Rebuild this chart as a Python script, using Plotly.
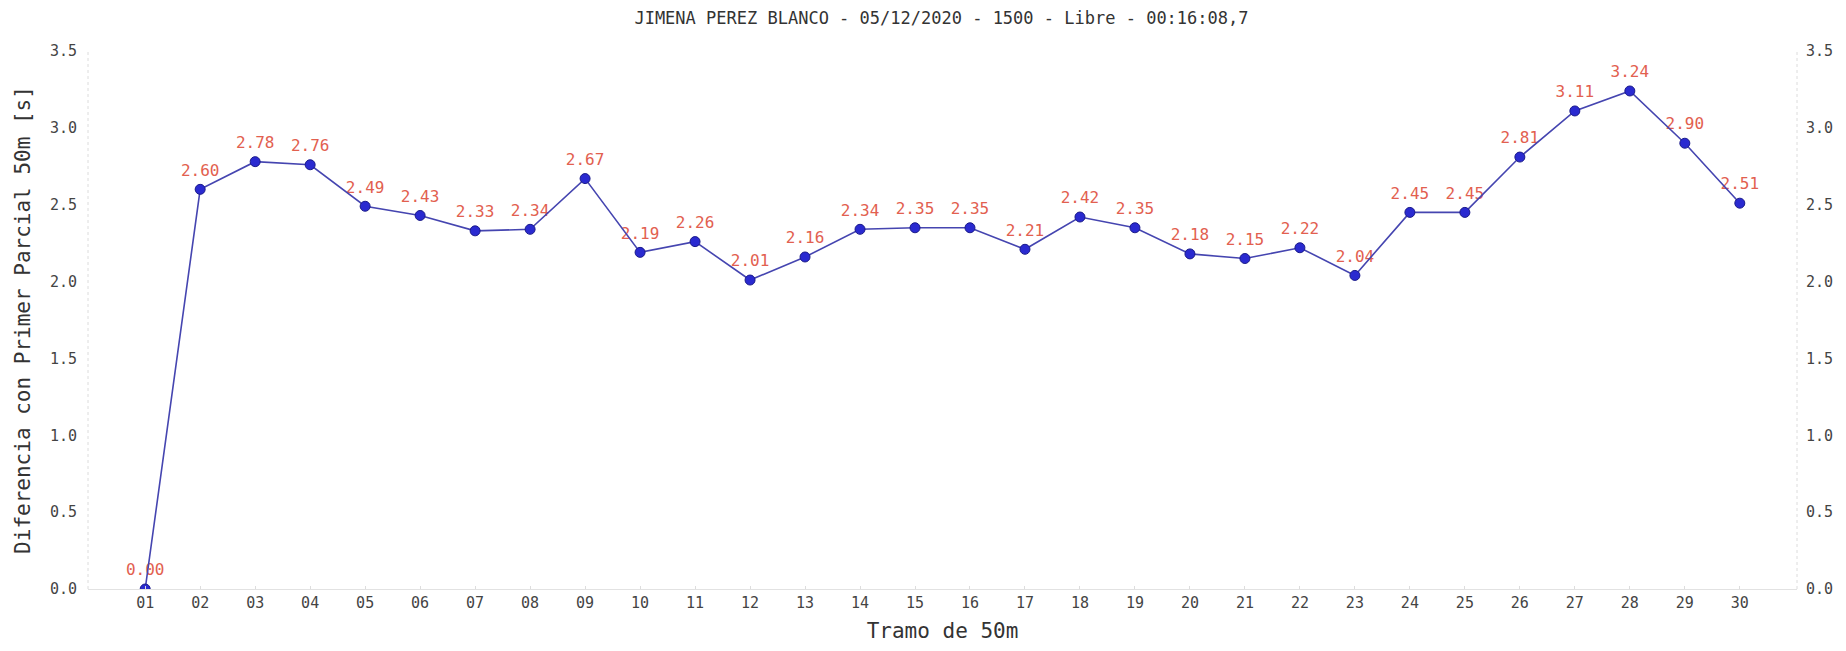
import plotly.graph_objects as go

# Split times relative to the first 50m split
tramos = [f"{i:02d}" for i in range(1, 31)]
diferencias = [0.00, 2.60, 2.78, 2.76, 2.49, 2.43, 2.33, 2.34, 2.67, 2.19,
               2.26, 2.01, 2.16, 2.34, 2.35, 2.35, 2.21, 2.42, 2.35, 2.18,
               2.15, 2.22, 2.04, 2.45, 2.45, 2.81, 3.11, 3.24, 2.90, 2.51]
titulo = "JIMENA PEREZ BLANCO - 05/12/2020 - 1500 - Libre - 00:16:08,7"
y_ticks = [0.0, 0.5, 1.0, 1.5, 2.0, 2.5, 3.0, 3.5]

FONT = "DejaVu Sans Mono"
x_pos = list(range(1, len(tramos) + 1))
etiquetas = [f"{v:.2f}" for v in diferencias]

fig = go.Figure()

# value labels first so the line sits on top of them; the transparent
# marker lifts the text a little above each point
fig.add_trace(go.Scatter(
    x=x_pos, y=diferencias, mode="markers+text", text=etiquetas,
    textposition="top center",
    marker=dict(size=14, opacity=0),
    textfont=dict(family=FONT, size=16, color="#e2604f"),
    hoverinfo="skip", showlegend=False,
))
fig.add_trace(go.Scatter(
    x=x_pos, y=diferencias, mode="lines+markers",
    line=dict(color="#4545b0", width=1.6),
    marker=dict(size=10, color="#2a2ad0", line=dict(color="#1a1a8a", width=1)),
    showlegend=False,
))
# mirror axis on the right
fig.add_trace(go.Scatter(
    x=x_pos, y=diferencias, yaxis="y2", mode="markers",
    marker=dict(opacity=0), hoverinfo="skip", showlegend=False,
))

tick_font = dict(family=FONT, size=15, color="#444444")

fig.update_layout(
    width=1846, height=651,
    margin=dict(l=88, r=49, t=51, b=62),
    paper_bgcolor="white", plot_bgcolor="white",
    title=dict(text=titulo, x=0.51, xanchor="center", y=0.972, yanchor="middle",
               font=dict(family=FONT, size=17, color="#333333")),
    xaxis=dict(
        range=[-0.04, 31.04], tickmode="array", tickvals=x_pos, ticktext=tramos,
        showgrid=False, zeroline=False, showline=True, linecolor="#e2e2e2",
        linewidth=1, ticks="inside", ticklen=3, tickcolor="#dddddd",
        tickfont=tick_font,
        title=dict(text="Tramo de 50m", font=dict(family=FONT, size=21, color="#333333"),
                   standoff=12),
    ),
    yaxis=dict(
        range=[0, 3.5], tickmode="array", tickvals=y_ticks,
        ticktext=[f"{v:.1f}" for v in y_ticks],
        showgrid=False, zeroline=False, showline=False, ticks="",
        tickfont=tick_font, ticklabelstandoff=10,
        title=dict(text="Diferencia con Primer Parcial 50m [s]",
                   font=dict(family=FONT, size=21, color="#333333"), standoff=13),
    ),
    yaxis2=dict(
        range=[0, 3.5], overlaying="y", side="right", tickmode="array",
        tickvals=y_ticks, ticktext=[f"{v:.1f}" for v in y_ticks],
        showgrid=False, zeroline=False, showline=False, ticks="",
        tickfont=tick_font, ticklabelstandoff=8,
    ),
)

# dotted frame lines at the left and right edges of the plot area
for xe in (0, 1):
    fig.add_shape(type="line", xref="paper", yref="paper", x0=xe, x1=xe, y0=0, y1=1,
                  line=dict(color="#dcdcdc", width=1, dash="dot"), layer="below")

fig.write_html("out.html")
